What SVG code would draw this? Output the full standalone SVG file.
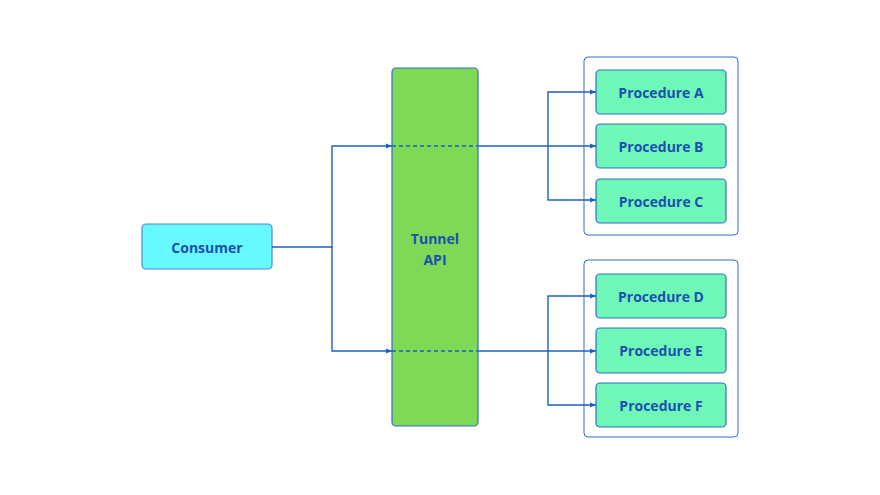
<svg xmlns="http://www.w3.org/2000/svg" width="880" height="495" viewBox="0 0 880 495">
<defs>
<marker id="ah" viewBox="0 0 10 10" refX="10" refY="5" markerWidth="6" markerHeight="6" markerUnits="userSpaceOnUse" orient="auto">
<path d="M0,1 L10,5 L0,9 Z" fill="#1f5fbf"/>
</marker>
<style>
.lbl{font-family:"Open Sans","Noto Sans",sans-serif;font-weight:bold;font-size:14px;fill:#1c4fb0;text-anchor:middle;dominant-baseline:central}
.proc{fill:#6ff7b8;stroke:#2f6fc9;stroke-width:1.2}
.grp{fill:#ffffff;stroke:#2f6fc9;stroke-width:1}
.ln{fill:none;stroke:#1f5fbf;stroke-width:1.4}
.dash{fill:none;stroke:#1f5fbf;stroke-width:1.4;stroke-dasharray:4 3}
</style>
</defs>
<rect width="880" height="495" fill="#ffffff"/>
<g id="group1"><rect class="grp" x="584" y="57" width="154" height="178" rx="4"/></g>
<g id="group2"><rect class="grp" x="584" y="260" width="154" height="177" rx="4"/></g>
<g id="consumer">
<rect x="142" y="224" width="130" height="45" rx="4" fill="#66f9ff" stroke="#4a8ad9" stroke-width="1.2"/>
<text class="lbl" x="207" y="247">Consumer</text>
</g>
<g id="tunnel">
<rect x="392" y="68" width="86" height="358" rx="4" fill="#7ed957" stroke="#2f6fc9" stroke-width="1.2"/>
<text class="lbl" x="435" y="238">Tunnel</text>
<text class="lbl" x="435" y="259">API</text>
</g>
<g id="procA"><rect class="proc" x="596" y="70" width="130" height="44" rx="4"/><text class="lbl" x="661" y="92">Procedure A</text></g>
<g id="procB"><rect class="proc" x="596" y="124" width="130" height="44" rx="4"/><text class="lbl" x="661" y="146">Procedure B</text></g>
<g id="procC"><rect class="proc" x="596" y="179" width="130" height="44" rx="4"/><text class="lbl" x="661" y="201">Procedure C</text></g>
<g id="procD"><rect class="proc" x="596" y="274" width="130" height="44" rx="4"/><text class="lbl" x="661" y="296">Procedure D</text></g>
<g id="procE"><rect class="proc" x="596" y="328" width="130" height="45" rx="4"/><text class="lbl" x="661" y="350.5">Procedure E</text></g>
<g id="procF"><rect class="proc" x="596" y="383" width="130" height="44" rx="4"/><text class="lbl" x="661" y="405">Procedure F</text></g>
<g id="connectors">
<path class="ln" d="M272,247 H332 V146 H392" marker-end="url(#ah)"/>
<path class="ln" d="M332,247 V351 H392" marker-end="url(#ah)"/>
<path class="dash" d="M392,146 H478"/>
<path class="dash" d="M392,351 H478"/>
<path class="ln" d="M478,146 H596" marker-end="url(#ah)"/>
<path class="ln" d="M548,146 V92 H596" marker-end="url(#ah)"/>
<path class="ln" d="M548,146 V200 H596" marker-end="url(#ah)"/>
<path class="ln" d="M478,351 H596" marker-end="url(#ah)"/>
<path class="ln" d="M548,351 V296 H596" marker-end="url(#ah)"/>
<path class="ln" d="M548,351 V405 H596" marker-end="url(#ah)"/>
</g>
</svg>
